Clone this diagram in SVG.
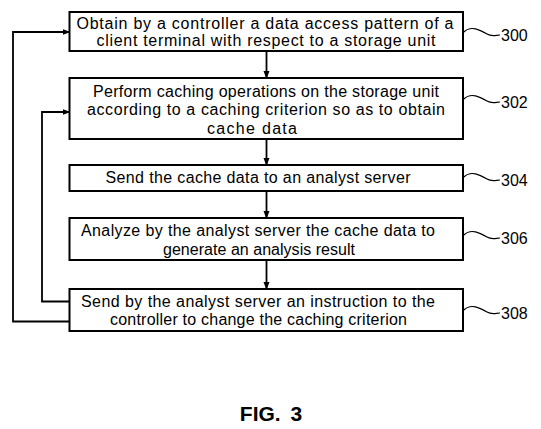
<svg xmlns="http://www.w3.org/2000/svg" width="541" height="429" viewBox="0 0 541 429">
<defs>
<marker id="ah" markerWidth="8" markerHeight="8" refX="7" refY="4" orient="auto" markerUnits="userSpaceOnUse">
<path d="M0,1 L8,4 L0,7 Z" fill="#000"/>
</marker>
<style>
.box{fill:#fff;stroke:#000;stroke-width:2}
.t{font-family:"Liberation Sans",Arial,sans-serif;font-size:16px;fill:#000;text-anchor:middle}
.n{font-family:"Liberation Sans",Arial,sans-serif;font-size:16px;fill:#000}
.w{fill:none;stroke:#000;stroke-width:1.2}
.c{fill:none;stroke:#000;stroke-width:1.8}
</style>
</defs>
<rect width="541" height="429" fill="#fff"/>
<g id="connectors">
<path class="c" d="M266.5,51 V78" marker-end="url(#ah)"/>
<path class="c" d="M266.5,139 V165" marker-end="url(#ah)"/>
<path class="c" d="M266.5,191 V218" marker-end="url(#ah)"/>
<path class="c" d="M266.5,260 V289" marker-end="url(#ah)"/>
<path class="c" d="M69.5,321.5 H13 V32 H69.5" marker-end="url(#ah)"/>
<path class="c" d="M69.5,301.5 H42 V112 H69.5" marker-end="url(#ah)"/>
</g>
<g id="n300">
<rect class="box" x="69.5" y="12" width="393.5" height="39"/>
<text class="t" x="265" y="29" textLength="377" lengthAdjust="spacing">Obtain by a controller a data access pattern of a</text>
<text class="t" x="266" y="46" textLength="339" lengthAdjust="spacing">client terminal with respect to a storage unit</text>
<path class="w" d="M464,32 C471,25 480,30 487,34 C492,37 496,35 500,35"/>
<text class="n" x="501" y="41">300</text>
</g>
<g id="n302">
<rect class="box" x="69.5" y="78" width="393.5" height="61"/>
<text class="t" x="266" y="97" textLength="346" lengthAdjust="spacing">Perform caching operations on the storage unit</text>
<text class="t" x="266" y="115" textLength="358" lengthAdjust="spacing">according to a caching criterion so as to obtain</text>
<text class="t" x="252" y="133.5" textLength="90" lengthAdjust="spacing">cache data</text>
<path class="w" d="M464,99 C471,92 480,97 487,101 C492,104 496,102 500,102"/>
<text class="n" x="501" y="108">302</text>
</g>
<g id="n304">
<rect class="box" x="69.5" y="165" width="393.5" height="26"/>
<text class="t" x="258" y="183" textLength="305" lengthAdjust="spacing">Send the cache data to an analyst server</text>
<path class="w" d="M464,177 C471,170 480,175 487,179 C492,182 496,180 500,180"/>
<text class="n" x="501" y="186">304</text>
</g>
<g id="n306">
<rect class="box" x="69.5" y="218" width="393.5" height="42"/>
<text class="t" x="258" y="236" textLength="354" lengthAdjust="spacing">Analyze by the analyst server the cache data to</text>
<text class="t" x="259" y="255" textLength="192" lengthAdjust="spacing">generate an analysis result</text>
<path class="w" d="M464,235 C471,228 480,233 487,237 C492,240 496,238 500,238"/>
<text class="n" x="501" y="244">306</text>
</g>
<g id="n308">
<rect class="box" x="69.5" y="289" width="393.5" height="42"/>
<text class="t" x="258" y="307" textLength="354" lengthAdjust="spacing">Send by the analyst server an instruction to the</text>
<text class="t" x="258.5" y="325" textLength="297" lengthAdjust="spacing">controller to change the caching criterion</text>
<path class="w" d="M464,310 C471,303 480,308 487,312 C492,315 496,313 500,313"/>
<text class="n" x="501" y="319">308</text>
</g>
<text x="271" y="421" font-family="Liberation Sans,Arial,sans-serif" font-size="21" font-weight="bold" text-anchor="middle" word-spacing="4">FIG. 3</text>
</svg>
